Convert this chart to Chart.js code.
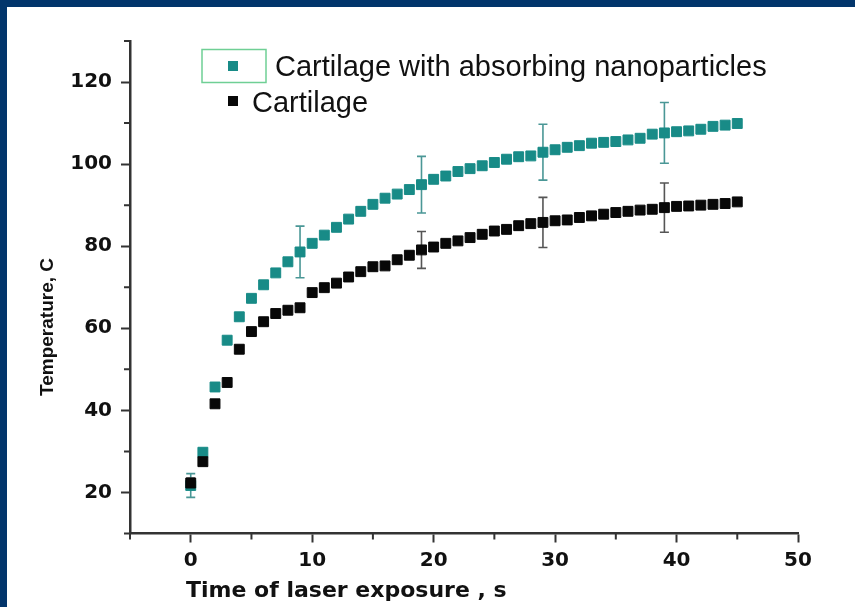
<!DOCTYPE html>
<html>
<head>
<meta charset="utf-8">
<title>Temperature vs time of laser exposure</title>
<script src="https://cdn.jsdelivr.net/npm/chart.js@4.4.0/dist/chart.umd.min.js"></script>
<style>
  html, body { margin: 0; padding: 0; background: #ffffff; overflow: hidden; }
  canvas { display: block; }
</style>
</head>
<body>
<canvas id="chart" width="855" height="607"></canvas>
<script>
// Time of laser exposure, s
const times = [0,1,2,3,4,5,6,7,8,9,10,11,12,13,14,15,16,17,18,19,20,21,22,23,24,25,26,27,28,29,30,31,32,33,34,35,36,37,38,39,40,41,42,43,44,45];

// Temperature, C — cartilage with absorbing nanoparticles
const tempNano = [21.7,29.8,45.7,57.1,62.8,67.3,70.6,73.5,76.2,78.6,80.7,82.7,84.6,86.6,88.5,90.2,91.7,92.7,93.8,95.0,96.3,97.1,98.2,98.9,99.6,100.4,101.2,101.8,102.0,102.9,103.5,104.1,104.5,105.1,105.3,105.5,105.9,106.3,107.3,107.6,107.9,108.1,108.5,109.2,109.5,109.9];

// Temperature, C — plain cartilage
const tempCartilage = [22.3,27.5,41.6,46.8,54.9,59.2,61.6,63.6,64.4,65.0,68.7,69.9,71.0,72.5,73.8,75.0,75.2,76.7,77.8,79.1,79.8,80.7,81.3,82.1,82.9,83.7,84.1,85.0,85.5,85.8,86.2,86.4,87.0,87.4,87.8,88.2,88.5,88.8,89.0,89.4,89.7,89.8,90.0,90.2,90.4,90.8];

// Error bars (± C) at selected times
const errTimes = [0, 9, 19, 29, 39];
const errNano = [2.9, 6.3, 6.9, 6.8, 7.4];
const errCartilage = [1.2, 0, 4.5, 6.1, 6.0];

// Axis ticks
const xMajorTicks = [0, 10, 20, 30, 40, 50];
const xMinorTicks = [-5, 5, 15, 25, 35, 45];
const yMajorTicks = [20, 40, 60, 80, 100, 120];
const yMinorTicks = [10, 30, 50, 70, 90, 110, 130];

const seriesLabels = ['Cartilage with absorbing nanoparticles', 'Cartilage'];
const xTitle = 'Time of laser exposure , s';
const yTitle = 'Temperature, C';

const TEAL = '#188b87';
const BLACK = '#080808';
const AXIS = '#333333';
const AXIS_FONT = 'DejaVu Sans';

const toPoints = vals => times.map((t, i) => ({ x: t, y: vals[i] }));

// Page frame, white background
const framePlugin = {
  id: 'frame',
  beforeDraw(chart) {
    const ctx = chart.ctx;
    ctx.save();
    ctx.fillStyle = '#ffffff';
    ctx.fillRect(0, 0, chart.width, chart.height);
    ctx.fillStyle = '#02356b';
    ctx.fillRect(0, 0, chart.width, 7);
    ctx.fillRect(0, 0, 7, chart.height);
    ctx.restore();
  }
};

// Vertical error bars with caps
const errorBarPlugin = {
  id: 'errorBars',
  beforeDatasetsDraw(chart) {
    const ctx = chart.ctx;
    const xs = chart.scales.x, ys = chart.scales.y;
    const sets = [
      { vals: tempNano, errs: errNano, color: '#4a9796' },
      { vals: tempCartilage, errs: errCartilage, color: '#555555' }
    ];
    ctx.save();
    ctx.lineWidth = 1.6;
    sets.forEach(s => {
      ctx.strokeStyle = s.color;
      errTimes.forEach((t, k) => {
        const e = s.errs[k];
        if (!e) return;
        const v = s.vals[times.indexOf(t)];
        const px = xs.getPixelForValue(t);
        const top = ys.getPixelForValue(v + e);
        const bot = ys.getPixelForValue(v - e);
        ctx.beginPath();
        ctx.moveTo(px, top); ctx.lineTo(px, bot);
        ctx.moveTo(px - 4.5, top); ctx.lineTo(px + 4.5, top);
        ctx.moveTo(px - 4.5, bot); ctx.lineTo(px + 4.5, bot);
        ctx.stroke();
      });
    });
    ctx.restore();
  }
};

// Minor ticks, axis titles and legend
const decorPlugin = {
  id: 'decor',
  afterDraw(chart) {
    const ctx = chart.ctx;
    const xs = chart.scales.x, ys = chart.scales.y;
    const area = chart.chartArea;
    ctx.save();
    ctx.strokeStyle = AXIS;
    ctx.lineWidth = 2;
    ctx.beginPath();
    xMinorTicks.forEach(v => {
      const px = xs.getPixelForValue(v);
      ctx.moveTo(px, area.bottom); ctx.lineTo(px, area.bottom + 6);
    });
    yMinorTicks.forEach(v => {
      const py = ys.getPixelForValue(v);
      ctx.moveTo(area.left, py); ctx.lineTo(area.left - 6, py);
    });
    ctx.stroke();

    // axis titles
    ctx.fillStyle = '#111111';
    ctx.font = 'bold 22px "' + AXIS_FONT + '"';
    ctx.textAlign = 'left';
    ctx.textBaseline = 'alphabetic';
    ctx.fillText(xTitle, 186, 597);

    ctx.font = 'bold 19px "Liberation Sans", Arial, sans-serif';
    ctx.translate(53, 327);
    ctx.rotate(-Math.PI / 2);
    ctx.textAlign = 'center';
    ctx.fillText(yTitle, 0, 0);
    ctx.setTransform(1, 0, 0, 1, 0, 0);

    // legend
    const ds = chart.data.datasets;
    ctx.font = '29px "Liberation Sans", Arial, sans-serif';
    ctx.textAlign = 'left';
    ctx.textBaseline = 'alphabetic';
    // highlight box round the first entry's symbol
    ctx.strokeStyle = '#6fcf95';
    ctx.lineWidth = 1.5;
    ctx.strokeRect(202, 49.5, 64, 33);
    const entries = [
      { ds: ds[0], mx: 233, my: 66, tx: 275, ty: 75.5 },
      { ds: ds[1], mx: 233, my: 101, tx: 252, ty: 112 }
    ];
    entries.forEach(e => {
      ctx.fillStyle = e.ds.backgroundColor;
      ctx.fillRect(e.mx - 5, e.my - 5, 10, 10);
      ctx.fillStyle = '#111111';
      ctx.fillText(e.ds.label, e.tx, e.ty);
    });
    ctx.restore();
  }
};

new Chart(document.getElementById('chart'), {
  type: 'scatter',
  data: {
    datasets: [
      {
        label: seriesLabels[0],
        data: toPoints(tempNano),
        backgroundColor: TEAL,
        borderColor: TEAL,
        borderWidth: 1,
        pointStyle: 'rect',
        pointRadius: 7,
        pointHoverRadius: 7,
        order: 2
      },
      {
        label: seriesLabels[1],
        data: toPoints(tempCartilage),
        backgroundColor: BLACK,
        borderColor: BLACK,
        borderWidth: 1,
        pointStyle: 'rect',
        pointRadius: 7,
        pointHoverRadius: 7,
        order: 1
      }
    ]
  },
  options: {
    responsive: false,
    animation: false,
    devicePixelRatio: 1,
    layout: { padding: { left: 50, right: 57, top: 41, bottom: 33.5 } },
    plugins: {
      legend: { display: false },
      tooltip: { enabled: false },
      title: { display: false }
    },
    scales: {
      x: {
        type: 'linear',
        min: -5,
        max: 50,
        afterBuildTicks: s => { s.ticks = xMajorTicks.map(v => ({ value: v })); },
        afterFit: s => { s.height = 40; },
        border: { color: AXIS, width: 2.5 },
        grid: { drawOnChartArea: false, drawTicks: true, tickLength: 9, tickWidth: 2, tickColor: AXIS },
        ticks: {
          color: '#111111',
          font: { family: AXIS_FONT, weight: 'bold', size: 20 },
          padding: 6,
          maxRotation: 0,
          autoSkip: false
        }
      },
      y: {
        type: 'linear',
        min: 10,
        max: 130,
        afterBuildTicks: s => { s.ticks = yMajorTicks.map(v => ({ value: v })); },
        afterFit: s => { s.width = 80; },
        border: { color: AXIS, width: 2.5 },
        grid: { drawOnChartArea: false, drawTicks: true, tickLength: 9, tickWidth: 2, tickColor: AXIS },
        ticks: {
          color: '#111111',
          font: { family: AXIS_FONT, weight: 'bold', size: 20 },
          padding: 9,
          autoSkip: false
        }
      }
    }
  },
  plugins: [framePlugin, errorBarPlugin, decorPlugin]
});
</script>
</body>
</html>
